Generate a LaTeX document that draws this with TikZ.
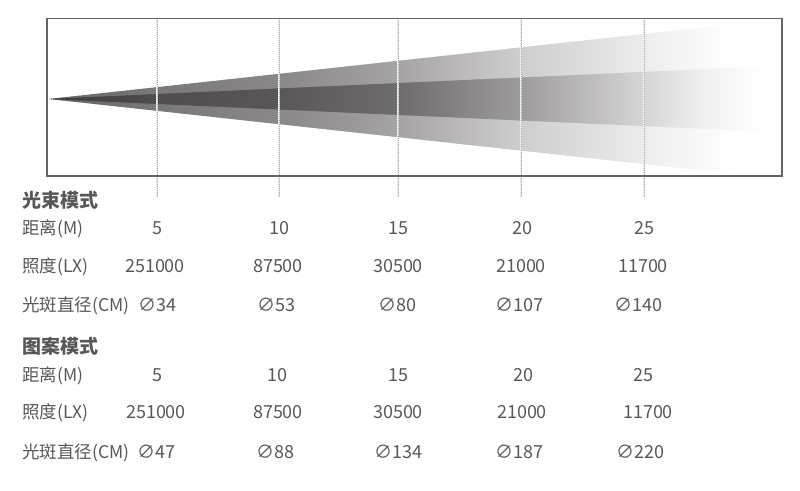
\documentclass[tikz,border=0pt]{standalone}
\usepackage{fontspec}
\setmainfont{Noto Sans CJK SC}
\definecolor{txt}{RGB}{88,88,88}
\definecolor{frame}{RGB}{100,100,100}
\definecolor{guidec}{RGB}{165,165,165}
\tikzset{
 boxline/.style={draw=frame,line width=1.8pt},
 guideback/.style={draw=white!85!gray,line width=1.3pt},
 guide/.style={draw=guidec,line width=1.0pt,densely dotted},
 head/.style={anchor=base west,inner sep=0pt,text=txt,font=\fontsize{19}{21}\selectfont\bfseries},
 lbl/.style={anchor=base west,inner sep=0pt,text=txt,font=\fontsize{17.5}{20}\selectfont},
 val/.style={anchor=base,inner sep=0pt,text=txt,font=\fontsize{18}{20}\selectfont},
}
\begin{document}
\begin{tikzpicture}[x=1pt,y=-1pt]
\useasboundingbox (0,0) rectangle (800,490);
% outer beam (strips)
\foreach \xa in {49,51,...,735}{
  \pgfmathsetmacro\xc{\xa+1}
  \pgfmathsetmacro\g{\xc<157 ? 0.40+(\xc-49)/108*0.08 : (\xc<279 ? 0.48+(\xc-157)/122*0.06 : (\xc<398 ? 0.54+(\xc-279)/119*0.11 : (\xc<521 ? 0.65+(\xc-398)/123*0.16 : (\xc<644 ? 0.81+(\xc-521)/123*0.12 : (\xc<700 ? 0.93+(\xc-644)/56*0.045 : min(1,0.975+(\xc-700)/35*0.025))))))}
  \pgfmathsetmacro\gb{\g-0.04*\g*(1-\g)}
  \definecolor{stripc}{rgb}{\g,\gb,\gb}
  \pgfmathsetmacro\xb{\xa+2.8}
  \fill[stripc] (\xa,{99-0.10929*(\xa-49)}) -- (\xb,{99-0.10929*(\xb-49)}) -- (\xb,{99+0.10929*(\xb-49)}) -- (\xa,{99+0.10929*(\xa-49)}) -- cycle;
}
% inner beam (strips)
\foreach \xa in {49,51,...,761}{
  \pgfmathsetmacro\xc{\xa+1}
  \pgfmathsetmacro\g{\xc<157 ? 0.24+(\xc-49)/108*0.07 : (\xc<279 ? 0.31+(\xc-157)/122*0.04 : (\xc<398 ? 0.35+(\xc-279)/119*0.08 : (\xc<521 ? 0.43+(\xc-398)/123*0.19 : (\xc<644 ? 0.62+(\xc-521)/123*0.22 : (\xc<700 ? 0.84+(\xc-644)/56*0.10 : min(1,0.94+(\xc-700)/62*0.06))))))}
  \pgfmathsetmacro\gb{\g-0.04*\g*(1-\g)}
  \definecolor{stripc}{rgb}{\g,\gb,\gb}
  \pgfmathsetmacro\xb{\xa+2.8}
  \fill[stripc] (\xa,{99-0.04549*(\xa-49)}) -- (\xb,{99-0.04549*(\xb-49)}) -- (\xb,{99+0.04549*(\xb-49)}) -- (\xa,{99+0.04549*(\xa-49)}) -- cycle;
}
% guide lines
\foreach \gx/\gn in {157/a,279/b,398/c,521/d,644/e}{
  \coordinate (gt\gn) at (\gx,18);
  \coordinate (gb\gn) at (\gx,197);
  \draw[guideback] (gt\gn) -- (gb\gn);
  \draw[guide] (gt\gn) -- (gb\gn);
}
% frame
\draw[boxline] (47,18.5) rectangle (782,176);
% block 1
\node[head] (h1) at (22,207) {光束模式};
\node[lbl] (l11) at (22,234.5) {距离(M)};
\node[lbl] (l12) at (22,272.5) {照度(LX)};
\node[lbl] (l13) at (22,311.5) {光斑直径(CM)};
\node[val] (d1a) at (157,234.5) {5};
\node[val] (d1b) at (279,234.5) {10};
\node[val] (d1c) at (398,234.5) {15};
\node[val] (d1d) at (522,234.5) {20};
\node[val] (d1e) at (644,234.5) {25};
\node[val] (i1a) at (155,272.5) {251000};
\node[val] (i1b) at (278,272.5) {87500};
\node[val] (i1c) at (398,272.5) {30500};
\node[val] (i1d) at (521,272.5) {21000};
\node[val] (i1e) at (643,272.5) {11700};
\node[val] (s1a) at (157,311.5) {∅34};
\node[val] (s1b) at (276,311.5) {∅53};
\node[val] (s1c) at (397,311.5) {∅80};
\node[val] (s1d) at (519,311.5) {∅107};
\node[val] (s1e) at (638,311.5) {∅140};
% block 2
\node[head] (h2) at (22,353) {图案模式};
\node[lbl] (l21) at (22,381) {距离(M)};
\node[lbl] (l22) at (22,418.5) {照度(LX)};
\node[lbl] (l23) at (22,458) {光斑直径(CM)};
\node[val] (d2a) at (157,381) {5};
\node[val] (d2b) at (277,381) {10};
\node[val] (d2c) at (398,381) {15};
\node[val] (d2d) at (523,381) {20};
\node[val] (d2e) at (643,381) {25};
\node[val] (i2a) at (156,418.5) {251000};
\node[val] (i2b) at (278,418.5) {87500};
\node[val] (i2c) at (398,418.5) {30500};
\node[val] (i2d) at (522,418.5) {21000};
\node[val] (i2e) at (648,418.5) {11700};
\node[val] (s2a) at (156,458) {∅47};
\node[val] (s2b) at (275,458) {∅88};
\node[val] (s2c) at (398,458) {∅134};
\node[val] (s2d) at (519,458) {∅187};
\node[val] (s2e) at (640,458) {∅220};
\end{tikzpicture}
\end{document}
